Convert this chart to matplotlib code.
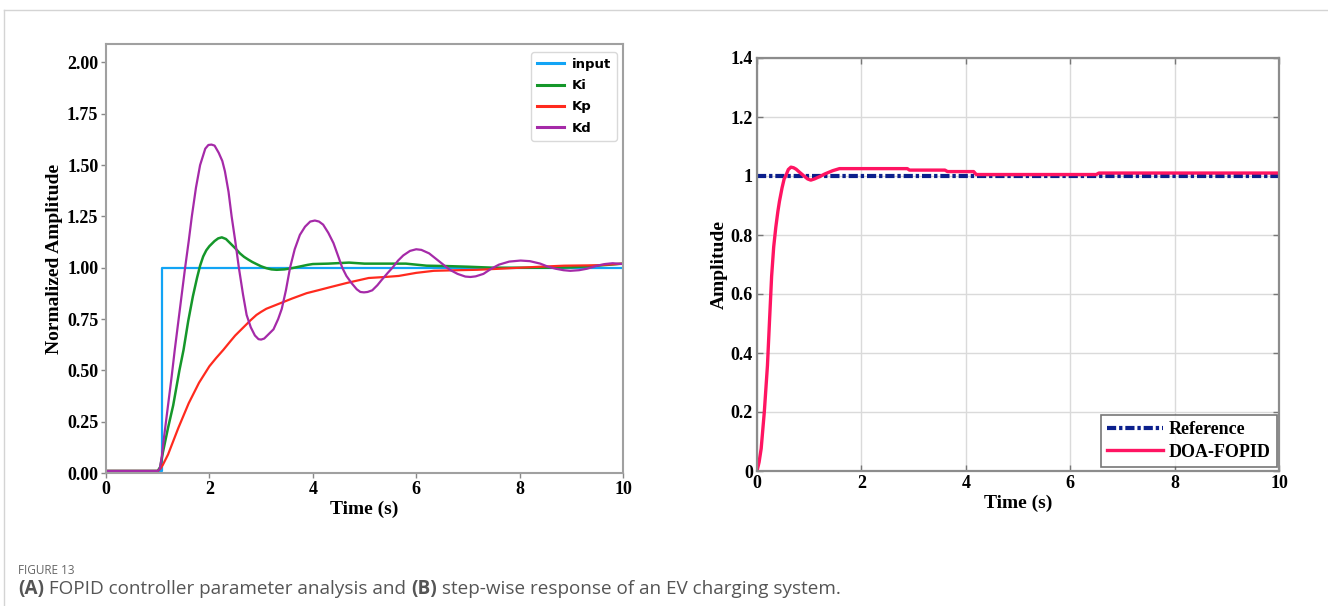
import matplotlib
matplotlib.use("Agg")
import matplotlib.pyplot as plt
from matplotlib.lines import Line2D
from matplotlib.ticker import FixedLocator, FuncFormatter

# ---------------- data ----------------
# (A) FOPID controller parameter analysis
input_t = [0.0, 1.09, 10.0]
input_v = [0.01, 1.0, 1.0]

ki_t = [0, 1.0, 1.05, 1.1, 1.2, 1.3, 1.42, 1.5, 1.59, 1.68, 1.76, 1.82, 1.88, 1.94, 2.0,
        2.1, 2.17, 2.24, 2.32, 2.4, 2.5, 2.59, 2.67, 2.75, 2.83, 2.91, 3.0, 3.1, 3.2,
        3.3, 3.45, 3.6, 3.75, 3.9, 4.0, 4.3, 4.7, 5.0, 5.5, 5.8, 6.2, 6.6, 7.0, 7.5,
        8.0, 8.5, 9.0, 9.5, 10.0]
ki_v = [0.01, 0.01, 0.03, 0.10, 0.22, 0.33, 0.50, 0.60, 0.74, 0.86, 0.95, 1.01, 1.055, 1.085, 1.105,
        1.13, 1.143, 1.148, 1.14, 1.12, 1.095, 1.07, 1.053, 1.04, 1.028, 1.018, 1.007, 0.998, 0.992,
        0.99, 0.992, 0.998, 1.006, 1.014, 1.018, 1.02, 1.025, 1.02, 1.02, 1.02, 1.01, 1.008, 1.005, 1.0,
        1.0, 1.0, 1.002, 1.01, 1.02]

kp_t = [0, 1.0, 1.05, 1.1, 1.2, 1.3, 1.4, 1.5, 1.6, 1.7, 1.8, 1.9, 2.0, 2.13, 2.27,
        2.4, 2.5, 2.6, 2.7, 2.8, 2.91, 3.0, 3.1, 3.25, 3.4, 3.6, 3.88, 4.1, 4.33, 4.66,
        5.08, 5.4, 5.66, 6.0, 6.34, 6.8, 7.18, 7.6, 8.0, 8.4, 8.86, 9.5, 10.0]
kp_v = [0.01, 0.01, 0.02, 0.04, 0.09, 0.155, 0.22, 0.28, 0.34, 0.39, 0.44, 0.48, 0.52, 0.56, 0.60,
        0.64, 0.67, 0.695, 0.72, 0.745, 0.77, 0.785, 0.80, 0.815, 0.83, 0.85, 0.876, 0.89, 0.905, 0.926,
        0.95, 0.955, 0.96, 0.975, 0.985, 0.988, 0.99, 0.995, 1.0, 1.005, 1.01, 1.012, 1.02]

kd_t = [0, 1.0, 1.04, 1.08, 1.12, 1.2, 1.27, 1.33, 1.43, 1.53, 1.6, 1.66, 1.74, 1.82, 1.92,
        1.98, 2.04, 2.1, 2.18, 2.25, 2.3, 2.37, 2.43, 2.5, 2.57, 2.65, 2.72, 2.8, 2.88, 2.95,
        3.0, 3.06, 3.12, 3.24, 3.33, 3.4, 3.48, 3.56, 3.65, 3.75, 3.85, 3.95, 4.04, 4.12, 4.2,
        4.3, 4.4, 4.5, 4.57, 4.65, 4.75, 4.85, 4.92, 4.99, 5.06, 5.15, 5.25, 5.33, 5.45, 5.54,
        5.65, 5.75, 5.88, 6.0, 6.1, 6.25, 6.4, 6.5, 6.65, 6.8, 6.95, 7.05, 7.15, 7.3, 7.45,
        7.6, 7.8, 8.02, 8.2, 8.4, 8.55, 8.7, 8.85, 8.98, 9.15, 9.3, 9.5, 9.65, 9.8, 10.0]
kd_v = [0.01, 0.01, 0.02, 0.08, 0.17, 0.33, 0.47, 0.60, 0.80, 1.00, 1.13, 1.25, 1.39, 1.50, 1.58,
        1.598, 1.60, 1.595, 1.56, 1.52, 1.47, 1.37, 1.25, 1.13, 1.00, 0.87, 0.77, 0.71, 0.67, 0.652,
        0.65, 0.655, 0.67, 0.70, 0.75, 0.80, 0.89, 1.00, 1.09, 1.16, 1.20, 1.225, 1.23, 1.225, 1.21,
        1.17, 1.12, 1.05, 1.00, 0.96, 0.925, 0.895, 0.882, 0.88, 0.882, 0.89, 0.915, 0.94, 0.975, 1.00,
        1.035, 1.06, 1.082, 1.09, 1.087, 1.07, 1.04, 1.02, 0.99, 0.97, 0.957, 0.955, 0.958, 0.97, 0.995,
        1.015, 1.03, 1.035, 1.032, 1.02, 1.005, 0.995, 0.988, 0.985, 0.988, 0.995, 1.01, 1.018, 1.022, 1.018]

# (B) step-wise response of the EV charging system
ref_t = [0.0, 10.0]
ref_v = [1.0, 1.0]

doa_t = [0, 0.04, 0.08, 0.14, 0.2, 0.24, 0.28, 0.32, 0.36, 0.4, 0.43, 0.48, 0.52, 0.55, 0.6,
         0.65, 0.7, 0.75, 0.82, 0.9, 0.97, 1.03, 1.1, 1.2, 1.3, 1.45, 1.58, 2.0, 2.5, 2.88,
         2.92, 3.6, 3.65, 4.15, 4.2, 6.5, 6.55, 10.0]
doa_v = [0, 0.03, 0.076, 0.2, 0.357, 0.51, 0.66, 0.76, 0.826, 0.88, 0.914, 0.96, 0.99, 1.0, 1.022,
         1.03, 1.028, 1.023, 1.012, 1.0, 0.99, 0.986, 0.99, 0.998, 1.007, 1.018, 1.025, 1.025, 1.025, 1.025,
         1.02, 1.02, 1.015, 1.015, 1.005, 1.005, 1.01, 1.01]

left_yticks = [0.00, 0.25, 0.50, 0.75, 1.00, 1.25, 1.50, 1.75, 2.00]
right_yticks = [0, 0.2, 0.4, 0.6, 0.8, 1.0, 1.2, 1.4]
time_ticks = [0, 2, 4, 6, 8, 10]

caption_head = "FIGURE 13"
caption_parts = [("(A)", "bold"), (" FOPID controller parameter analysis and ", "normal"),
                 ("(B)", "bold"), (" step-wise response of an EV charging system.", "normal")]

# ---------------- figure ----------------
W, H = 1328, 606
fig = plt.figure(figsize=(W / 100, H / 100), dpi=100)
fig.patch.set_facecolor("white")

SERIF = ["Liberation Serif", "DejaVu Serif"]
tick_font = dict(family=SERIF, weight="bold", size=13)
label_font = dict(family=SERIF, weight="bold", size=14)


def px_axes(x0, y0, x1, y1):
    return fig.add_axes([x0 / W, 1 - y1 / H, (x1 - x0) / W, (y1 - y0) / H])


# outer frame
fig.add_artist(Line2D([4 / W, 1.0], [1 - 10 / H, 1 - 10 / H], color="#d4d4d4", lw=1.0))
fig.add_artist(Line2D([4 / W, 4 / W], [0.0, 1 - 10 / H], color="#d4d4d4", lw=1.0))

# ---- panel A ----
axA = px_axes(106, 44, 623, 473)
axA.plot(input_t, input_v, color="#12a4f5", lw=1.6, drawstyle="steps-post", label="input")
axA.plot(ki_t, ki_v, color="#15972a", lw=1.8, label="Ki")
axA.plot(kp_t, kp_v, color="#ff2a1e", lw=1.6, label="Kp")
axA.plot(kd_t, kd_v, color="#a52aa8", lw=1.6, label="Kd")
axA.set_xlim(0, 10)
axA.set_ylim(0, 2.09)
axA.yaxis.set_major_locator(FixedLocator(left_yticks))
axA.yaxis.set_major_formatter(FuncFormatter(lambda v, p: f"{v:.2f}"))
axA.xaxis.set_major_locator(FixedLocator(time_ticks))
axA.tick_params(direction="out", length=3.5, width=1, color="#888888", pad=2)
for s in axA.spines.values():
    s.set_color("#a0a0a0")
    s.set_linewidth(1.5)
for lab in axA.get_xticklabels() + axA.get_yticklabels():
    lab.set_fontproperties(dict(tick_font))
axA.set_xlabel("Time (s)", fontdict=label_font, labelpad=2)
axA.set_ylabel("Normalized Amplitude", fontdict=label_font, labelpad=3)
legA = axA.legend(loc="upper right", bbox_to_anchor=(0.988, 0.981),
                  prop=dict(family="DejaVu Sans", weight="bold", size=9.5),
                  handlelength=2.0, handletextpad=0.6, labelspacing=0.62,
                  borderpad=0.45, borderaxespad=0.0, frameon=True, fancybox=True)
legA.get_frame().set_edgecolor("#d0d0d0")
legA.get_frame().set_linewidth(1.0)
for h in legA.get_lines():
    h.set_linewidth(2.2)

# ---- panel B ----
axB = px_axes(757, 58, 1279, 471)
axB.grid(True, color="#dadada", lw=1.0)
axB.set_axisbelow(True)
axB.plot(ref_t, ref_v, color="#0b1f8c", lw=3.0, linestyle=(0, (2.2, 0.7, 0.8, 0.7)),
         label="Reference")
axB.plot(doa_t, doa_v, color="#ff1462", lw=2.4, label="DOA-FOPID")
axB.set_xlim(0, 10)
axB.set_ylim(0, 1.4)
axB.yaxis.set_major_locator(FixedLocator(right_yticks))
axB.yaxis.set_major_formatter(FuncFormatter(lambda v, p: f"{v:g}"))
axB.xaxis.set_major_locator(FixedLocator(time_ticks))
axB.tick_params(direction="in", length=4, width=1, color="#777777", pad=3,
                top=True, right=True)
for s in axB.spines.values():
    s.set_color("#8c8c8c")
    s.set_linewidth(1.6)
for lab in axB.get_xticklabels() + axB.get_yticklabels():
    lab.set_fontproperties(dict(tick_font))
axB.set_xlabel("Time (s)", fontdict=label_font, labelpad=2)
axB.set_ylabel("Amplitude", fontdict=label_font, labelpad=2)
legB = axB.legend(loc="lower right", bbox_to_anchor=(0.996, 0.01),
                  prop=dict(family=SERIF, weight="bold", size=13),
                  handlelength=3.1, handletextpad=0.3, labelspacing=0.3,
                  borderpad=0.35, borderaxespad=0.0, frameon=True, fancybox=False)
legB.get_frame().set_edgecolor("#555555")
legB.get_frame().set_linewidth(1.2)

# ---- caption ----
cap_color = "#555555"
fig.text(18 / W, 1 - 571 / H, caption_head, family="Open Sans", size=8.5,
         color="#666666", va="center", ha="left")
renderer = fig.canvas.get_renderer()
x = 18
for txt, wt in caption_parts:
    t = fig.text(x / W, 1 - 589 / H, txt, family="Open Sans", size=13.6, weight=wt,
                 color=cap_color, va="center", ha="left")
    bb = t.get_window_extent(renderer=renderer)
    x += bb.width

fig.savefig("out.png", dpi=100)
